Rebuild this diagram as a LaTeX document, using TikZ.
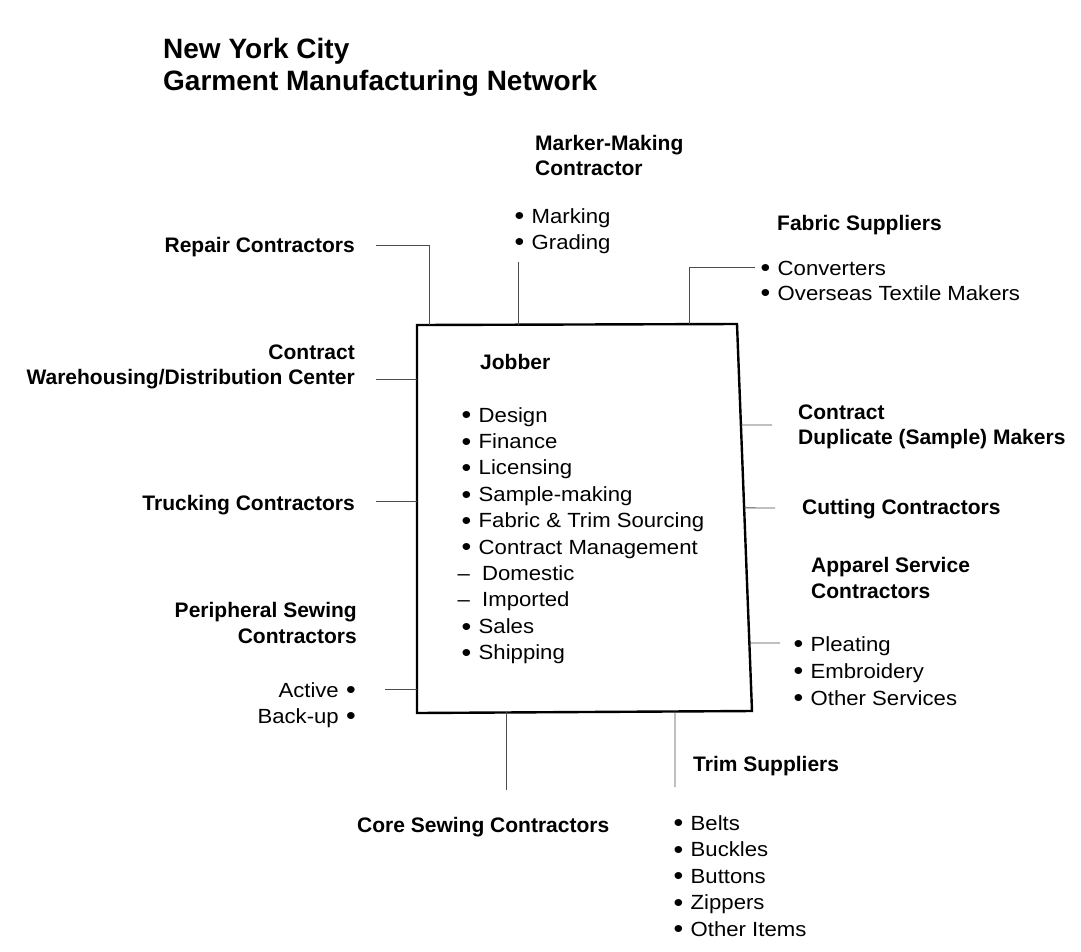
\documentclass[tikz,border=0pt]{standalone}
\usepackage{fontspec}
\setmainfont{Liberation Sans}
\newfontfamily\widefont{Liberation Sans}[FakeStretch=1.08]
\usetikzlibrary{calc}
\newcommand\itm{\makebox[17pt][l]{\raisebox{-1.8pt}{\scalebox{1.25}{•}}}}
\newcommand\ritm{\makebox[17pt][r]{\raisebox{-1.8pt}{\scalebox{1.25}{•}}}}
\newcommand\dsh{\hspace*{-4pt}\makebox[24.5pt][l]{–}}
\begin{document}
\begin{tikzpicture}[x=1pt,y=-1pt,
  hd/.style={font=\fontsize{21}{25.5}\selectfont\bfseries, inner sep=0pt, align=left},
  hdr/.style={hd, align=right, anchor=base east},
  hdl/.style={hd, anchor=base west},
  tx/.style={font=\widefont\fontsize{20.5}{26}\selectfont, inner sep=0pt, align=left, anchor=base west},
  ttl/.style={font=\fontsize{28}{32}\selectfont\bfseries, inner sep=0pt, align=left, anchor=base west},
  ln/.style={line width=0.8pt, draw=black!70},
  jbox/.style={line width=2.4pt, line join=miter}]
\useasboundingbox (0,0) rectangle (1081,951);

% title (multi-line nodes are placed by the baseline of their last line)
\node[ttl] (title) at (163,90) {New York City\\Garment Manufacturing Network};

% central jobber box
\coordinate (TL) at (417,325);
\coordinate (TR) at (737,324);
\coordinate (BR) at (752,711);
\coordinate (BL) at (417,713);
\draw[jbox] (TL) -- (TR) -- (BR) -- (BL) -- cycle;
\node[hdl] (jobber) at (480,369) {Jobber};
\node[tx, font=\widefont\fontsize{20.5}{26.4}\selectfont] (jobs) at (461.5,659.6) {\itm Design\\\itm Finance\\\itm Licensing\\\itm Sample-making\\\itm Fabric \& Trim Sourcing\\\itm Contract Management\\\dsh Domestic\\\dsh Imported\\\itm Sales\\\itm Shipping};

% top
\node[hdl] (marker) at (535,175.5) {Marker-Making\\Contractor};
\node[tx] (markitems) at (514.5,249) {\itm Marking\\\itm Grading};
\node[hdl] (fabric) at (777,230) {Fabric Suppliers};
\node[tx, font=\widefont\fontsize{20.5}{25}\selectfont] (fabitems) at (760.5,300) {\itm Converters\\\itm Overseas Textile Makers};

% left
\node[hdr] (repair) at (355,252) {Repair Contractors};
\node[hdr] (ware) at (355,384.5) {Contract\\Warehousing/Distribution Center};
\node[hdr] (truck) at (355,510) {Trucking Contractors};
\node[hdr, font=\fontsize{21}{26}\selectfont\bfseries] (periph) at (357,643) {Peripheral Sewing\\Contractors};
\node[tx, align=right, anchor=base east] (perititems) at (356,723) {Active\ritm\\Back-up\ritm};

% right
\node[hdl] (dup) at (798,444.5) {Contract\\Duplicate (Sample) Makers};
\node[hdl] (cut) at (802,514) {Cutting Contractors};
\node[hdl, font=\fontsize{21}{26}\selectfont\bfseries] (apparel) at (811,598) {Apparel Service\\Contractors};
\node[tx, font=\widefont\fontsize{20.5}{27}\selectfont] (appitems) at (793.5,705) {\itm Pleating\\\itm Embroidery\\\itm Other Services};

% bottom
\node[hdl] (core) at (357,832) {Core Sewing Contractors};
\node[hdl] (trim) at (693,771) {Trim Suppliers};
\node[tx, font=\widefont\fontsize{20.5}{26.5}\selectfont] (trimitems) at (673.5,936) {\itm Belts\\\itm Buckles\\\itm Buttons\\\itm Zippers\\\itm Other Items};

% connector end points
\coordinate (cRep) at (376,245);
\coordinate (cRepB) at ($(TL)!0.04!(TR)$);
\coordinate (cMark) at (518,262);
\coordinate (cMarkB) at ($(TL)!0.316!(TR)$);
\coordinate (cFab) at (755,267);
\coordinate (cFabB) at ($(TL)!0.85!(TR)$);
\coordinate (cWare) at (376,379);
\coordinate (cTruck) at (376,501);
\coordinate (cAct) at (385,689);
\coordinate (cDup) at (772,425);
\coordinate (cCut) at (775,508);
\coordinate (cApp) at (780,643);
\coordinate (cCore) at (506,790);
\coordinate (cCoreB) at ($(BL)!0.266!(BR)$);
\coordinate (cTrim) at (675,787);
\coordinate (cTrimB) at ($(BL)!0.77!(BR)$);

% connectors
\draw[ln] (cRep) -| (cRepB);
\draw[ln] (cMark) -- (cMark |- cMarkB);
\draw[ln] (cFab) -| (cFabB);
\draw[ln] (cWare) -- (cWare -| TL);
\draw[ln] (cTruck) -- (cTruck -| TL);
\draw[ln] (cAct) -- (cAct -| TL);
\draw[ln] (cDup) -- ($(TR)!0.261!(BR)$);
\draw[ln] (cCut) -- ($(TR)!0.475!(BR)$);
\draw[ln] (cApp) -- ($(TR)!0.824!(BR)$);
\draw[ln] (cCoreB) -- (cCoreB |- cCore);
\draw[ln] (cTrimB) -- (cTrim);
\end{tikzpicture}
\end{document}
